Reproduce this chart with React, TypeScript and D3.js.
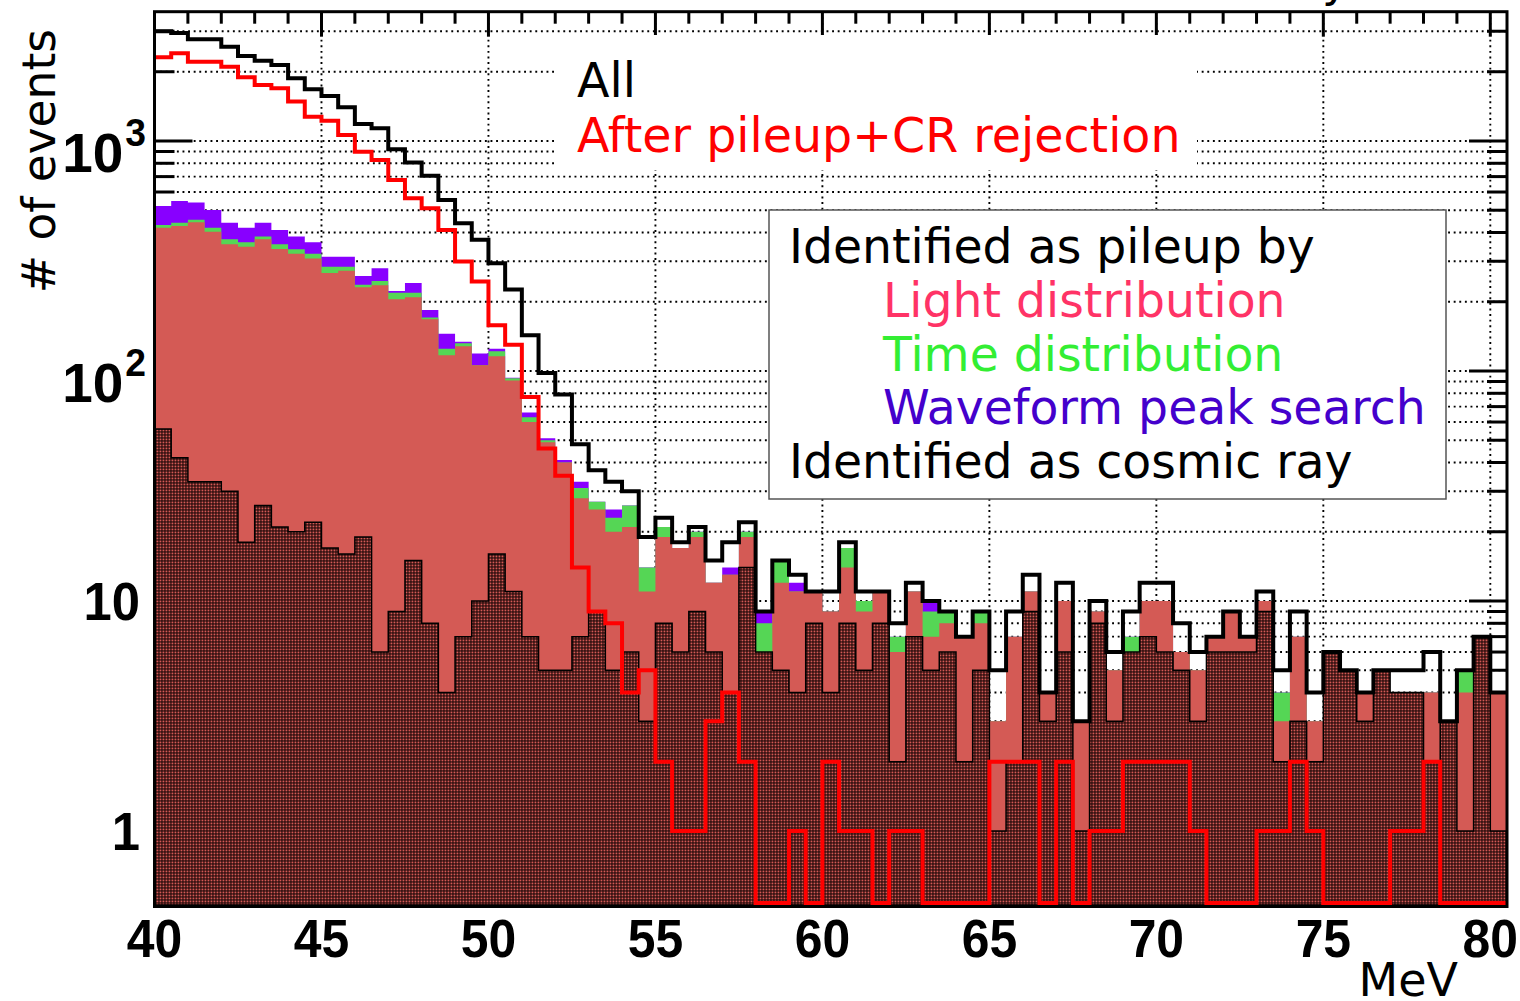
import React from 'react';
import * as d3 from 'd3';

// ---- data (counts per 0.5 MeV bin, 40.0 .. 80.5 MeV) ----
const binStart = 40;
const binWidth = 0.5;
const allEvents = [3000,2950,2770,2770,2570,2340,2230,2140,1875,1680,1570,1400,1185,1135,920,807,706,554,439,372,294,226,143,98,79,48,37,33,30,19,23,18,21,15,18,22,9,15,13,11,11,18,11,11,8,12,10,9,7,9,5,9,13,4,12,3,10,6,9,12,12,8,6,7,9,7,11,5,9,4,6,5,4,5,5,5,6,3,5,7,4];
const afterRejection = [2312,2406,2213,2213,2105,1892,1750,1694,1483,1276,1225,1062,898,827,676,564,510,410,299,245,158,130,77,46,35,14,9,8,4,5,2,1,1,3,4,2,0,0,1,0,2,1,1,0,1,1,0,0,0,0,2,2,2,0,2,0,1,1,2,2,2,2,1,0,0,0,1,1,2,1,0,0,0,0,1,1,2,0,0,0,0];
const waveformPeak = [522,548,540,501,441,420,441,410,384,363,314,314,259,280,223,241,184,145,134,119,125,93.5,66,51,41,33,27,25,26,14,21,17,20,12,14,20,9,15,12,11,9,17,10,11,7,11,10,9,7,9,3,7,11,4,10,3,9,5,7,10,10,6,5,7,9,7,10,4,7,3,0,0,4,0,0,0,4,0,5,0,4];
const timeDist = [431,441,454,420,374,363,384,356,338,323,284,284,237,246,219,219,171,125,132,106,122,93,63,50,40,31,27,23,26,14,21,17,20,12,13,20,8,15,11,11,9,17,10,11,7,11,9,9,7,9,3,7,11,4,10,3,9,5,7,10,10,6,5,7,9,7,10,4,7,3,0,0,4,0,0,0,4,0,5,0,4];
const lightDist = [420,427,443,403,356,347,374,339,323,308,267,273,231,236,205,209,168,117,128,106,116,91,60,49,40,28,25,20,21,11,19,17,19,12,13,19,6,12,11,11,9,14,9,11,6,11,7,8,7,8,3,7,11,4,10,3,9,5,6,10,10,6,5,7,9,7,10,3,7,3,0,0,4,0,0,0,4,0,4,0,4];
const cosmicRay = [56,42,33,33,30,18,26,21,20,22,17,16,19,6,9,15,8,4,7,10,16,11,7,5,5,7,9,5,6,3,8,6,9,6,4,14,6,5,4,8,4,8,5,8,2,7,5,6,2,5,1,2,9,3,6,1,8,3,6,7,6,5,3,6,6,6,9,2,3,2,6,5,3,5,4,4,2,3,1,7,1];

const xTickValues = [40, 45, 50, 55, 60, 65, 70, 75, 80];
const yTickLabels = [
  { v: 1, base: '1', exp: '' },
  { v: 10, base: '10', exp: '' },
  { v: 100, base: '10', exp: '2' },
  { v: 1000, base: '10', exp: '3' },
];
const legendTop = [
  { text: 'All', color: '#000000' },
  { text: 'After pileup+CR rejection', color: '#ff0000' },
];
const legendMain = [
  { text: 'Identified as pileup by', color: '#000000', indent: false },
  { text: 'Light distribution', color: '#ff3366', indent: true },
  { text: 'Time distribution', color: '#33ee33', indent: true },
  { text: 'Waveform peak search', color: '#4400cc', indent: true },
  { text: 'Identified as cosmic ray', color: '#000000', indent: false },
];

const W = 1520, H = 1001;
const L = 154.5, R = 1507, T = 11.7, B = 905;

export default function App() {
  const nBins = allEvents.length;
  const x = d3.scaleLinear().domain([binStart, binStart + nBins * binWidth]).range([L, R]);
  const y = d3.scaleLog().domain([0.4768, 3648]).range([B, T]);

  const fillY = (v: number) => (v > 0 ? y(v) : B);
  const lineY = (v: number) => (v > 0 ? y(v) : B - 2);

  const pts = (vals: number[], fy: (v: number) => number) => {
    const p: [number, number][] = vals.map((v, i) => [x(binStart + i * binWidth), fy(v)]);
    p.push([x(binStart + nBins * binWidth), fy(vals[vals.length - 1])]);
    return p;
  };
  const area = d3.area<[number, number]>().x(d => d[0]).y0(B).y1(d => d[1]).curve(d3.curveStepAfter);
  const line = d3.line<[number, number]>().x(d => d[0]).y(d => d[1]).curve(d3.curveStepAfter);

  const yGrid = y.ticks().filter(v => v >= 0.5 && v <= 3600);
  const isMajorY = (v: number) => Math.abs(Math.log10(v) - Math.round(Math.log10(v))) < 1e-6;
  const xMinor = d3.range(41, 81, 1);
  const xGrid = xTickValues.filter(v => v > 40);

  const dotted = { stroke: '#000', strokeWidth: 1.9, strokeDasharray: '1.9 3.7' };
  const tickFont = "'Liberation Sans', Arial, Helvetica, sans-serif";
  const textFont = "'DejaVu Sans', Verdana, sans-serif";

  return (
    <div style={{ position: 'fixed', left: 0, top: 0, width: W, height: H, background: '#fff' }}>
      <svg width={W} height={H} viewBox={`0 0 ${W} ${H}`} style={{ display: 'block' }}>
        <defs>
          <clipPath id="plotClip">
            <rect x={L} y={T} width={R - L} height={B - T} />
          </clipPath>
          <pattern id="crHatch" width="3" height="3" patternUnits="userSpaceOnUse">
            <rect width="3" height="3" fill="#1c0606" />
            <rect x="0.5" y="0.5" width="1.9" height="1.9" fill="#d45a55" />
          </pattern>
        </defs>
        <rect x={0} y={0} width={W} height={H} fill="#fff" />

        {/* grid */}
        <g>
          {yGrid.map(v => (
            <line key={'gy' + v} x1={L} x2={R} y1={y(v)} y2={y(v)} {...dotted} />
          ))}
          {xGrid.map(v => (
            <line key={'gx' + v} x1={x(v)} x2={x(v)} y1={T} y2={B} {...dotted} />
          ))}
        </g>

        {/* ticks */}
        <g stroke="#000" strokeWidth={3}>
          {yGrid.map(v => {
            const len = isMajorY(v) ? 38 : 20;
            return (
              <g key={'ty' + v}>
                <line x1={L} x2={L + len} y1={y(v)} y2={y(v)} />
                <line x1={R} x2={R - len} y1={y(v)} y2={y(v)} />
              </g>
            );
          })}
          {xMinor.map(v => {
            const len = v % 5 === 0 ? 25 : 12;
            return (
              <g key={'tx' + v}>
                <line x1={x(v)} x2={x(v)} y1={T} y2={T + len} />
                <line x1={x(v)} x2={x(v)} y1={B} y2={B - len} />
              </g>
            );
          })}
        </g>

        {/* histograms */}
        <g clipPath="url(#plotClip)">
          <path d={area(pts(waveformPeak, fillY)) || ''} fill="#8800ff" />
          <path d={area(pts(timeDist, fillY)) || ''} fill="#55d655" />
          <path d={area(pts(lightDist, fillY)) || ''} fill="#d45a55" />
          <path d={area(pts(cosmicRay, fillY)) || ''} fill="url(#crHatch)" stroke="#000" strokeWidth={1.5} />
          <path d={line(pts(allEvents, lineY)) || ''} fill="none" stroke="#000" strokeWidth={4} />
          <path d={line(pts(afterRejection, lineY)) || ''} fill="none" stroke="#ff0000" strokeWidth={4} />
        </g>

        {/* frame */}
        <rect x={L} y={T} width={R - L} height={B - T + 1.5} fill="none" stroke="#000" strokeWidth={3} />

        {/* cut-off title glyph */}
        <text x={1322} y={-4} fontFamily={textFont} fontSize={46} fill="#000">y</text>

        {/* top legend */}
        <rect x={557} y={35} width={640} height={135} fill="#fff" />
        {legendTop.map((d, i) => (
          <text key={d.text} x={577} y={97 + i * 55} fontFamily={textFont} fontSize={47.5} fill={d.color}>{d.text}</text>
        ))}

        {/* main legend */}
        <rect x={769} y={210} width={677} height={289} fill="#fff" stroke="#555" strokeWidth={1.5} />
        {legendMain.map((d, i) => (
          <text key={d.text} x={d.indent ? 883 : 789} y={263 + i * 53.8} fontFamily={textFont} fontSize={47.3} fill={d.color}>{d.text}</text>
        ))}

        {/* x tick labels */}
        {xTickValues.map(v => (
          <text key={'lx' + v} transform={`translate(${x(v)},957) scale(0.94,1)`} textAnchor="middle"
            fontFamily={tickFont} fontWeight="bold" fontSize={53} fill="#000">{v}</text>
        ))}

        {/* y tick labels */}
        {yTickLabels.map(d => d.exp ? (
          <text key={'ly' + d.v} transform={`translate(146,${y(d.v) + 31}) scale(0.98,1)`} textAnchor="end"
            fontFamily={tickFont} fontWeight="bold" fontSize={56} fill="#000">
            {d.base}<tspan fontSize={38} dx={2} dy={-26}>{d.exp}</tspan>
          </text>
        ) : (
          <text key={'ly' + d.v} transform={`translate(140,${y(d.v) + 19}) scale(0.94,1)`} textAnchor="end"
            fontFamily={tickFont} fontWeight="bold" fontSize={54} fill="#000">{d.base}</text>
        ))}

        {/* axis titles */}
        <text transform="translate(55,29) rotate(-90)" textAnchor="end" fontFamily={textFont} fontSize={45.5} fill="#000"># of events</text>
        <text x={1458} y={996} textAnchor="end" fontFamily={textFont} fontSize={46} fill="#000">MeV</text>
      </svg>
    </div>
  );
}
